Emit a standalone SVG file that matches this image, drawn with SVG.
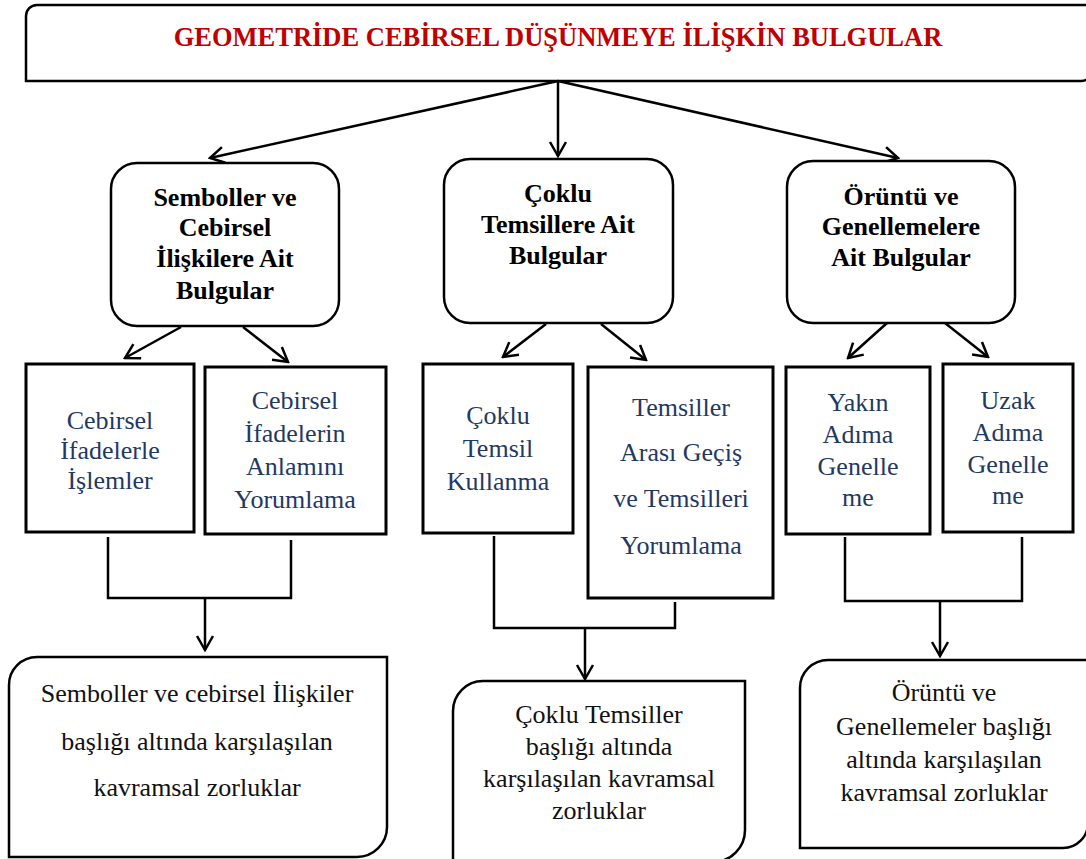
<svg xmlns="http://www.w3.org/2000/svg" width="1086" height="859" viewBox="0 0 1086 859">
<style>
.box{fill:#fff;stroke:#000;stroke-width:2.5}
.sq{fill:#fff;stroke:#000;stroke-width:3}
.ln{fill:none;stroke:#000;stroke-width:2.5}
.t{font-family:"Times New Roman","Liberation Serif",Tinos,"Nimbus Roman","DejaVu Serif",serif;font-size:26px;text-anchor:middle;font-weight:normal}
.title{font-weight:bold;fill:#C00000;font-size:26.5px}
.b{font-weight:bold;fill:#000}
.blue{fill:#1F3864}
.blk{fill:#111}
</style>
<defs>
<marker id="ah" viewBox="0 0 20 20" refX="18" refY="10" markerWidth="20" markerHeight="20" orient="auto" markerUnits="userSpaceOnUse">
<path d="M4,2 L18,10 L4,18" fill="none" stroke="#000" stroke-width="2.5"/>
</marker>
</defs>
<rect width="1086" height="859" fill="#fff"/>

<g id="title">
<path class="box" d="M26,16 A11,11 0 0 1 37,5 L1092,5 L1092,70 A11,11 0 0 1 1081,81 L26,81 Z"/>
<text class="t title" x="558" y="46">GEOMETRİDE CEBİRSEL DÜŞÜNMEYE İLİŞKİN BULGULAR</text>
</g>

<g id="connectors">
<line class="ln" x1="558" y1="81" x2="210" y2="158" marker-end="url(#ah)"/>
<line class="ln" x1="558" y1="81" x2="558" y2="156" marker-end="url(#ah)"/>
<line class="ln" x1="558" y1="81" x2="898" y2="158" marker-end="url(#ah)"/>
<line class="ln" x1="181" y1="327" x2="125" y2="358" marker-end="url(#ah)"/>
<line class="ln" x1="243" y1="327" x2="288" y2="362" marker-end="url(#ah)"/>
<line class="ln" x1="546" y1="324" x2="503" y2="357" marker-end="url(#ah)"/>
<line class="ln" x1="601" y1="324" x2="646" y2="360" marker-end="url(#ah)"/>
<line class="ln" x1="887" y1="323" x2="848" y2="358" marker-end="url(#ah)"/>
<line class="ln" x1="945" y1="323" x2="988" y2="357" marker-end="url(#ah)"/>
<polyline class="ln" points="108,537 108,598 291,598 291,540"/>
<line class="ln" x1="205" y1="598" x2="205" y2="650" marker-end="url(#ah)"/>
<polyline class="ln" points="494,536 494,628 675,628 675,602"/>
<line class="ln" x1="585" y1="628" x2="585" y2="679" marker-end="url(#ah)"/>
<polyline class="ln" points="845,537 845,601 1022,601 1022,537"/>
<line class="ln" x1="940" y1="601" x2="940" y2="656" marker-end="url(#ah)"/>
</g>

<g id="n-semboller">
<rect class="box" x="111" y="163" width="228" height="163" rx="26" ry="26"/>
<text class="t b" x="225" y="206">Semboller ve</text>
<text class="t b" x="225" y="236">Cebirsel</text>
<text class="t b" x="225" y="267">İlişkilere Ait</text>
<text class="t b" x="225" y="299">Bulgular</text>
</g>

<g id="n-coklu">
<rect class="box" x="444" y="159" width="229" height="164" rx="26" ry="26"/>
<text class="t b" x="558" y="202">Çoklu</text>
<text class="t b" x="558" y="233">Temsillere Ait</text>
<text class="t b" x="558" y="264">Bulgular</text>
</g>

<g id="n-oruntu">
<rect class="box" x="787" y="161" width="228" height="162" rx="26" ry="26"/>
<text class="t b" x="901" y="205">Örüntü ve</text>
<text class="t b" x="901" y="235">Genellemelere</text>
<text class="t b" x="901" y="266">Ait Bulgular</text>
</g>

<g id="n-a">
<rect class="sq" x="26" y="364" width="168" height="168"/>
<text class="t blue" x="110" y="429">Cebirsel</text>
<text class="t blue" x="110" y="459">İfadelerle</text>
<text class="t blue" x="110" y="489">İşlemler</text>
</g>

<g id="n-b">
<rect class="sq" x="205" y="367" width="181" height="167"/>
<text class="t blue" x="295" y="409">Cebirsel</text>
<text class="t blue" x="295" y="442">İfadelerin</text>
<text class="t blue" x="295" y="475">Anlamını</text>
<text class="t blue" x="295" y="508">Yorumlama</text>
</g>

<g id="n-c">
<rect class="sq" x="423" y="364" width="150" height="169"/>
<text class="t blue" x="498" y="424">Çoklu</text>
<text class="t blue" x="498" y="457">Temsil</text>
<text class="t blue" x="498" y="490">Kullanma</text>
</g>

<g id="n-d">
<rect class="sq" x="588" y="367" width="185" height="231"/>
<text class="t blue" x="681" y="416">Temsiller</text>
<text class="t blue" x="681" y="461">Arası Geçiş</text>
<text class="t blue" x="681" y="507">ve Temsilleri</text>
<text class="t blue" x="681" y="554">Yorumlama</text>
</g>

<g id="n-e">
<rect class="sq" x="786" y="367" width="144" height="167"/>
<text class="t blue" x="858" y="411">Yakın</text>
<text class="t blue" x="858" y="443">Adıma</text>
<text class="t blue" x="858" y="475">Genelle</text>
<text class="t blue" x="858" y="506">me</text>
</g>

<g id="n-f">
<rect class="sq" x="943" y="364" width="130" height="168"/>
<text class="t blue" x="1008" y="409">Uzak</text>
<text class="t blue" x="1008" y="441">Adıma</text>
<text class="t blue" x="1008" y="473">Genelle</text>
<text class="t blue" x="1008" y="504">me</text>
</g>

<g id="n-zl">
<path class="box" d="M9,685 A28,28 0 0 1 37,657 L387,657 L387,827 A30,30 0 0 1 357,857 L9,857 Z"/>
<text class="t blk" x="197" y="702">Semboller ve cebirsel İlişkiler</text>
<text class="t blk" x="197" y="750">başlığı altında karşılaşılan</text>
<text class="t blk" x="197" y="796">kavramsal zorluklar</text>
</g>

<g id="n-zm">
<path class="box" d="M453,711 A30,30 0 0 1 483,681 L745,681 L745,830 A32,32 0 0 1 713,862 L453,862 Z"/>
<text class="t blk" x="599" y="723">Çoklu Temsiller</text>
<text class="t blk" x="599" y="755">başlığı altında</text>
<text class="t blk" x="599" y="787">karşılaşılan kavramsal</text>
<text class="t blk" x="599" y="819">zorluklar</text>
</g>

<g id="n-zr">
<path class="box" d="M800,688 A28,28 0 0 1 828,660 L1088,660 L1088,823 A25,25 0 0 1 1063,848 L800,848 Z"/>
<text class="t blk" x="944" y="701">Örüntü ve</text>
<text class="t blk" x="944" y="735">Genellemeler başlığı</text>
<text class="t blk" x="944" y="768">altında karşılaşılan</text>
<text class="t blk" x="944" y="801">kavramsal zorluklar</text>
</g>
</svg>
